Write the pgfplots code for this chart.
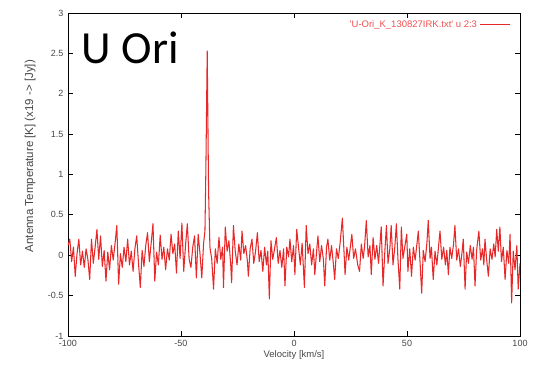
\documentclass[border=0pt]{standalone}
\usepackage{fontspec}
\setmainfont{Liberation Sans}
\newfontfamily\carlito{Carlito}
\usepackage{pgfplots}
\pgfplotsset{compat=1.18}
\definecolor{gred}{RGB}{232,40,40}
\definecolor{lred}{RGB}{240,80,80}
\definecolor{tgray}{RGB}{70,70,70}
\begin{document}
\begin{tikzpicture}
\begin{axis}[
  scale only axis, width=452pt, height=323pt,
  xmin=-100, xmax=100, ymin=-1, ymax=3,
  xtick={-100,-50,0,50,100},
  ytick={-1,-0.5,0,0.5,1,1.5,2,2.5,3},
  tick align=inside, tick pos=both,
  major tick length=5pt,
  axis line style={black, line width=0.9pt},
  every tick/.style={black, line width=0.8pt},
  /pgf/number format/assume math mode=true,
  tick label style={font=\fontsize{9}{10}\selectfont, text=tgray},
  yticklabel style={xshift=-1pt},
  xticklabel style={yshift=-1pt},
  xlabel={Velocity [km/s]},
  xlabel style={font=\fontsize{9.5}{11}\selectfont, text=tgray, yshift=3pt},
  ylabel={Antenna Temperature [K] (x19 -> [Jy])},
  ylabel style={font=\fontsize{11.5}{13}\selectfont, text=tgray, at={(rel axis cs:-0.084,0.557)}, anchor=center},
  legend plot pos=right,
  legend style={draw=none, fill=none, at={(rel axis cs:0.985,0.99)}, anchor=north east, font=\fontsize{9.5}{11}\selectfont, text=lred},
  legend image code/.code={\draw[gred, line width=1pt] (0pt,0pt) -- (30pt,0pt);},
]
\addplot[gred, line width=1.05pt, line join=round] coordinates {
(-100.0,0.12) (-99.2,0.20) (-98.4,-0.08) (-97.6,0.10) (-96.8,-0.26) (-96.0,0.02) (-95.2,0.20) (-94.4,-0.12)
(-93.6,0.05) (-92.8,-0.15) (-92.0,0.08) (-91.2,-0.05) (-90.4,-0.30) (-89.6,0.20) (-88.8,-0.10) (-88.0,0.10)
(-87.2,0.32) (-86.4,-0.05) (-85.6,0.24) (-84.8,-0.14) (-84.0,0.06) (-83.2,-0.32) (-82.4,0.04) (-81.6,-0.18)
(-80.8,0.12) (-80.0,-0.06) (-79.2,0.14) (-78.4,0.37) (-77.6,-0.36) (-76.8,0.02) (-76.0,-0.15) (-75.2,0.10)
(-74.4,-0.08) (-73.6,0.20) (-72.8,-0.12) (-72.0,0.05) (-71.2,-0.20) (-70.4,0.08) (-69.6,0.24) (-68.8,-0.10)
(-68.0,-0.40) (-67.2,0.06) (-66.4,-0.14) (-65.6,0.12) (-64.8,0.28) (-64.0,-0.08) (-63.2,0.15) (-62.4,0.39)
(-61.6,-0.32) (-60.8,0.04) (-60.0,-0.12) (-59.2,0.25) (-58.4,-0.05) (-57.6,0.10) (-56.8,-0.18) (-56.0,0.08)
(-55.2,-0.06) (-54.4,0.26) (-53.6,0.02) (-52.8,0.14) (-52.0,-0.22) (-51.2,0.30) (-50.4,-0.04) (-49.6,0.40)
(-48.8,-0.20) (-48.0,0.12) (-47.2,0.39) (-46.4,-0.05) (-45.6,-0.15) (-44.8,0.10) (-44.0,0.24) (-43.2,-0.28)
(-42.4,0.26) (-41.6,0.02) (-40.8,-0.28) (-40.0,0.15) (-39.4,0.30) (-39.0,1.05) (-38.4,2.53) (-37.8,0.80)
(-37.2,0.10) (-36.4,-0.05) (-35.6,-0.42) (-34.8,0.08) (-34.0,-0.10) (-33.2,0.22) (-32.4,-0.05) (-31.6,0.10)
(-31.2,-0.40) (-30.4,0.35) (-29.6,0.05) (-28.8,0.18) (-28.0,-0.12) (-27.6,-0.34) (-26.8,0.37) (-26.0,0.05)
(-25.2,-0.12) (-24.4,0.14) (-23.6,-0.06) (-23.0,0.30) (-22.2,0.02) (-21.4,0.12) (-20.6,-0.08) (-20.2,-0.26)
(-19.4,0.08) (-18.6,0.20) (-17.8,-0.10) (-17.0,0.05) (-16.2,0.28) (-15.4,-0.08) (-14.6,0.06) (-13.8,-0.20)
(-13.0,0.10) (-12.2,-0.12) (-11.6,0.05) (-10.9,-0.54) (-10.2,0.18) (-9.4,-0.05) (-8.6,0.08) (-7.8,0.22)
(-7.0,-0.10) (-6.2,0.06) (-5.4,-0.15) (-4.6,0.08) (-4.0,-0.38) (-3.2,0.10) (-2.4,-0.02) (-1.8,0.20)
(-1.0,-0.08) (-0.2,0.12) (0.4,-0.24) (1.2,0.32) (2.0,0.10) (2.8,-0.12) (3.6,0.15) (4.6,-0.40)
(5.4,0.37) (6.2,0.02) (7.0,0.14) (7.8,-0.12) (8.6,0.08) (9.2,-0.24) (10.0,0.05) (10.6,0.24)
(11.4,-0.08) (12.2,0.12) (13.0,-0.05) (13.6,-0.38) (14.4,0.10) (15.0,0.20) (15.8,-0.06) (16.6,0.12)
(17.4,-0.10) (18.0,-0.30) (18.8,0.08) (19.6,-0.04) (20.4,0.15) (21.4,0.46) (22.2,0.00) (22.6,-0.24)
(23.4,0.10) (24.2,-0.06) (25.0,0.12) (25.6,0.26) (26.4,-0.04) (27.2,0.08) (28.2,-0.12) (29.0,-0.20)
(29.8,0.14) (30.6,-0.04) (31.2,0.10) (32.0,0.43) (32.8,-0.02) (33.6,0.12) (34.2,-0.24) (35.0,0.22)
(35.8,-0.05) (36.6,0.12) (37.4,-0.10) (38.6,0.35) (39.4,-0.38) (40.2,0.05) (40.9,0.37) (41.6,-0.10)
(42.4,0.08) (43.0,0.37) (43.8,-0.12) (44.6,0.10) (45.3,0.39) (46.0,-0.05) (46.8,-0.42) (47.5,0.35)
(48.2,-0.04) (49.0,0.10) (49.9,0.26) (50.4,-0.20) (51.2,0.08) (52.0,-0.26) (52.8,0.10) (53.6,-0.06)
(54.4,0.14) (55.0,0.30) (55.8,-0.10) (56.5,-0.47) (57.2,0.06) (58.0,-0.08) (58.8,0.15) (59.4,0.43)
(60.2,-0.04) (60.8,0.10) (61.6,-0.30) (62.4,0.05) (63.2,-0.12) (64.0,0.12) (64.6,0.30) (65.4,-0.05)
(66.2,0.10) (67.0,-0.12) (67.6,0.06) (68.3,-0.24) (69.0,0.10) (69.8,-0.04) (70.6,0.14) (71.2,0.37)
(72.0,-0.06) (72.8,0.08) (73.6,-0.14) (74.4,0.05) (74.9,0.20) (75.7,-0.42) (76.4,0.04) (77.2,-0.10)
(78.0,0.12) (78.8,-0.05) (79.4,0.10) (80.1,-0.38) (80.8,0.06) (81.8,0.30) (82.6,-0.06) (83.4,0.08)
(84.0,-0.12) (84.5,0.20) (85.2,-0.04) (86.0,-0.26) (86.8,0.08) (87.6,-0.05) (88.4,0.14) (89.0,-0.02)
(89.7,0.32) (90.4,0.05) (91.1,0.35) (91.8,-0.08) (92.6,0.10) (93.4,-0.30) (94.2,0.06) (95.0,-0.10)
(95.6,0.26) (96.3,-0.59) (97.0,0.05) (97.8,-0.18) (98.6,0.12) (99.2,-0.42) (100.0,-0.10)
};
\addlegendentry{\textquotesingle U-Ori\_K\_130827IRK.txt\textquotesingle\ u 2:3}
\node[anchor=base west, inner sep=0pt, font=\carlito\fontsize{46}{50}\selectfont] at (rel axis cs:0.0303,0.845) {U Ori};
\end{axis}
\pgfresetboundingbox
\path[use as bounding box] (-68pt,-37pt) rectangle (477pt,336pt);
\end{tikzpicture}
\end{document}
